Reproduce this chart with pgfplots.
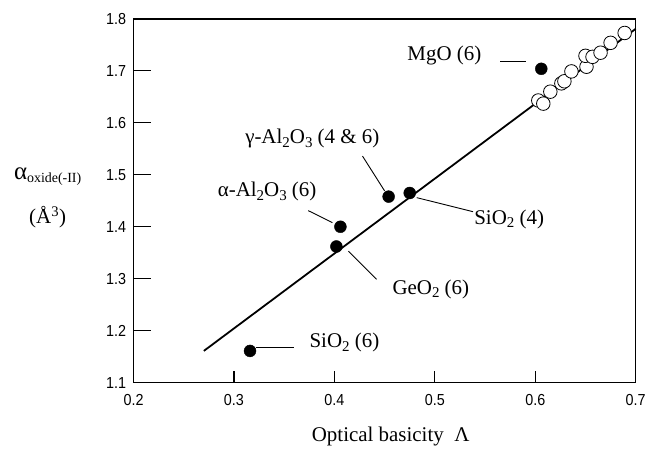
\documentclass[border=0pt]{standalone}
\usepackage{fontspec}
\setmainfont{Liberation Serif}
\newfontfamily\tickfont[FakeStretch=0.9]{Liberation Sans}
\usepackage{pgfplots}
\pgfplotsset{compat=1.18}
\newcommand\sub[1]{\raisebox{-0.35ex}{\fontsize{15}{15}\selectfont #1}}
\newcommand\lbl{\fontsize{21}{25}\selectfont}
\begin{document}
\begin{tikzpicture}
\begin{axis}[
  scale only axis, width=504pt, height=365pt,
  xmin=0.2, xmax=0.7, ymin=1.1, ymax=1.8,
  xtick={0.2,0.3,0.4,0.5,0.6,0.7},
  ytick={1.1,1.2,1.3,1.4,1.5,1.6,1.7,1.8},
  xtick pos=left, ytick pos=left, tick align=inside,
  major tick length=0pt,
  axis line style={line width=1.4pt},
  ticklabel style={font=\tickfont\fontsize{16}{16}\selectfont},
  xticklabel style={yshift=-8pt},
  yticklabel style={xshift=-4pt},
  /pgf/number format/.cd, fixed, fixed zerofill, precision=1, assume math mode=true,
  /pgfplots/.cd,
  xlabel={Optical basicity \ Λ},
  xlabel style={font=\lbl, at={(axis description cs:0.512,-0.162)}, anchor=base},
  clip=false,
]
% tick marks (inside, left and bottom only)
\draw[line width=1.1pt] (axis cs:0.3,1.1) -- (axis cs:0.3,1.123);
\draw[line width=1.1pt] (axis cs:0.4,1.1) -- (axis cs:0.4,1.123);
\draw[line width=1.1pt] (axis cs:0.5,1.1) -- (axis cs:0.5,1.123);
\draw[line width=1.1pt] (axis cs:0.6,1.1) -- (axis cs:0.6,1.123);
\draw[line width=1.1pt] (axis cs:0.2,1.2) -- (axis cs:0.217,1.2);
\draw[line width=1.1pt] (axis cs:0.2,1.3) -- (axis cs:0.217,1.3);
\draw[line width=1.1pt] (axis cs:0.2,1.4) -- (axis cs:0.217,1.4);
\draw[line width=1.1pt] (axis cs:0.2,1.5) -- (axis cs:0.217,1.5);
\draw[line width=1.1pt] (axis cs:0.2,1.6) -- (axis cs:0.217,1.6);
\draw[line width=1.1pt] (axis cs:0.2,1.7) -- (axis cs:0.217,1.7);
% fitted line
\addplot[line width=1.8pt, no marks] coordinates {(0.270,1.161) (0.700,1.781)};
% open circles
\addplot[only marks, mark=*, mark size=6.8pt, mark options={fill=white, draw=black, line width=0.8pt}] coordinates {
(0.603,1.643) (0.608,1.637) (0.615,1.660) (0.626,1.676) (0.629,1.680) (0.636,1.699)
(0.651,1.708) (0.650,1.729) (0.657,1.727) (0.665,1.735) (0.675,1.754) (0.689,1.773)
};
% filled dots
\addplot[only marks, mark=*, mark size=6pt, mark options={fill=black, draw=black}] coordinates {
(0.316,1.161) (0.406,1.400) (0.402,1.362) (0.454,1.458) (0.475,1.465) (0.606,1.704)
};
% leaders
\draw[line width=0.9pt] (axis cs:0.565,1.718) -- (axis cs:0.591,1.718);
\draw[line width=0.9pt] (axis cs:0.428,1.536) -- (axis cs:0.450,1.469);
\draw[line width=0.9pt] (axis cs:0.374,1.431) -- (axis cs:0.398,1.408);
\draw[line width=0.9pt] (axis cs:0.482,1.456) -- (axis cs:0.538,1.429);
\draw[line width=0.9pt] (axis cs:0.414,1.353) -- (axis cs:0.442,1.299);
\draw[line width=0.9pt] (axis cs:0.322,1.167) -- (axis cs:0.360,1.167);
% labels
\node[font=\lbl] at (axis cs:0.5095,1.729) {MgO (6)};
\node[font=\lbl] at (axis cs:0.378,1.569) {γ-Al\sub{2}O\sub{3} (4 \& 6)};
\node[font=\lbl] at (axis cs:0.333,1.467) {α-Al\sub{2}O\sub{3} (6)};
\node[font=\lbl] at (axis cs:0.574,1.414) {SiO\sub{2} (4)};
\node[font=\lbl] at (axis cs:0.496,1.280) {GeO\sub{2} (6)};
\node[font=\lbl] at (axis cs:0.410,1.177) {SiO\sub{2} (6)};
% y label
\node[font=\lbl] at (axis description cs:-0.171,0.566) {{\fontsize{25}{25}\selectfont α}\raisebox{-0.3ex}{\fontsize{14}{14}\selectfont oxide(-II)}};
\node[font=\lbl] at (axis description cs:-0.171,0.455) {(Å\textsuperscript{3})};
\end{axis}
\path (-134pt,-64pt) rectangle (515pt,384pt);
\end{tikzpicture}
\end{document}
